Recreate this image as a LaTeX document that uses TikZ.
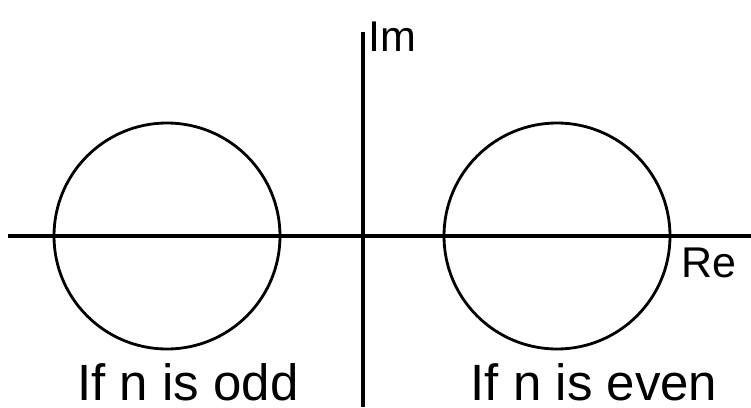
\documentclass[tikz,border=0pt]{standalone}
\usepackage{fontspec}
\setmainfont{Liberation Sans}
\begin{document}
\begin{tikzpicture}[
    x=1pt, y=-1pt,
    axis/.style={
        line width=3.4pt
    },
    ring/.style={
        circle,
        draw,
        line width=2.8pt,
        minimum size=226pt,
        inner sep=0pt
    },
    axislabel/.style={
        inner sep=0pt,
        font=\fontsize{43}{50}\selectfont
    },
    caption/.style={
        inner sep=0pt,
        anchor=base,
        font=\fontsize{51}{60}\selectfont
    }
]

\useasboundingbox (0,0) rectangle (751,407);

\coordinate (reL) at (8,236);
\coordinate (reR) at (751,236);
\coordinate (imT) at (363,32);
\coordinate (imB) at (363,407);

\node[ring] (odd) at (167,236) {};
\node[ring] (even) at (557,236) {};

\draw[axis] (reL) -- (reR);
\draw[axis] (imT) -- (imB);

\node[axislabel, anchor=west] (im) at (368,37) {Im};
\node[axislabel, anchor=west] (re) at (681,263) {Re};

\node[caption] (oddtext) at (188,400) {If n is odd};
\node[caption] (eventext) at (594,400) {If n is even};

\end{tikzpicture}
\end{document}
